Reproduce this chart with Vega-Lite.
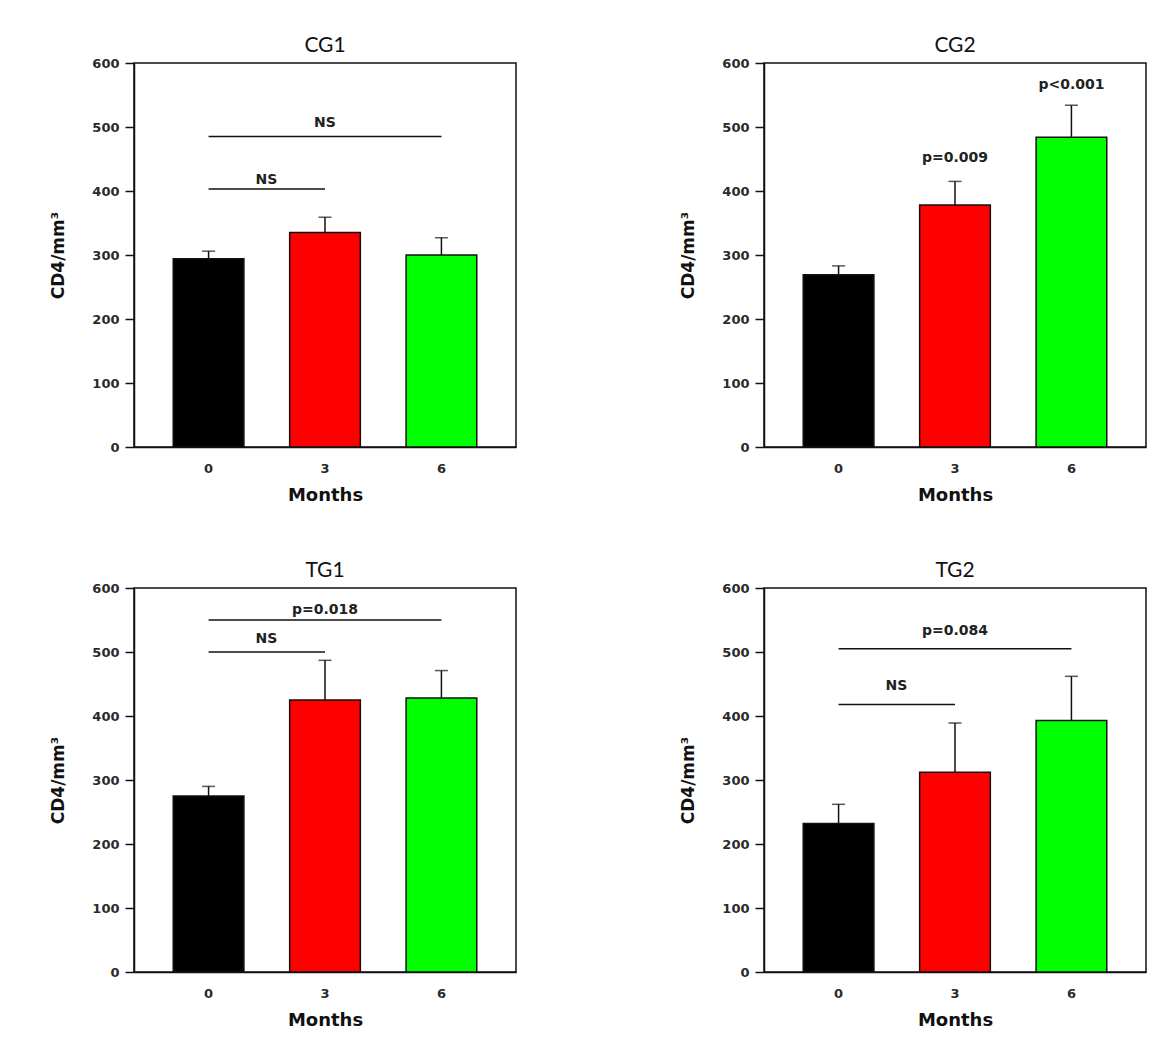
{
  "$schema": "https://vega.github.io/schema/vega-lite/v6.json",
  "background": "white",
  "padding": {"left": 49, "top": 34, "right": 5, "bottom": 5},
  "datasets": {
    "bars": [
      {"group": "CG1", "month": "0", "mean": 294, "upper": 306},
      {"group": "CG1", "month": "3", "mean": 335, "upper": 359},
      {"group": "CG1", "month": "6", "mean": 300, "upper": 327},
      {"group": "CG2", "month": "0", "mean": 269, "upper": 283},
      {"group": "CG2", "month": "3", "mean": 378, "upper": 415},
      {"group": "CG2", "month": "6", "mean": 484, "upper": 534},
      {"group": "TG1", "month": "0", "mean": 275, "upper": 290},
      {"group": "TG1", "month": "3", "mean": 425, "upper": 487},
      {"group": "TG1", "month": "6", "mean": 428, "upper": 471},
      {"group": "TG2", "month": "0", "mean": 232, "upper": 262},
      {"group": "TG2", "month": "3", "mean": 312, "upper": 389},
      {"group": "TG2", "month": "6", "mean": 393, "upper": 462}
    ],
    "brackets": [
      {"group": "CG1", "from": "0", "to": "6", "level": 485},
      {"group": "CG1", "from": "0", "to": "3", "level": 403},
      {"group": "TG1", "from": "0", "to": "6", "level": 550},
      {"group": "TG1", "from": "0", "to": "3", "level": 500},
      {"group": "TG2", "from": "0", "to": "6", "level": 505},
      {"group": "TG2", "from": "0", "to": "3", "level": 418}
    ],
    "notes": [
      {"group": "CG1", "at": "3", "span": "full", "y": 507, "label": "NS"},
      {"group": "CG1", "at": "0", "span": "half", "y": 417, "label": "NS"},
      {"group": "CG2", "at": "3", "span": "bar", "y": 451, "label": "p=0.009"},
      {"group": "CG2", "at": "6", "span": "bar", "y": 566, "label": "p<0.001"},
      {"group": "TG1", "at": "3", "span": "full", "y": 566, "label": "p=0.018"},
      {"group": "TG1", "at": "0", "span": "half", "y": 521, "label": "NS"},
      {"group": "TG2", "at": "3", "span": "full", "y": 533, "label": "p=0.084"},
      {"group": "TG2", "at": "0", "span": "half", "y": 447, "label": "NS"}
    ]
  },
  "columns": 2,
  "spacing": {"column": 162, "row": 54},
  "concat": [
    {
      "title": "CG1",
      "width": 382, "height": 384,
      "layer": [
        {"data": {"name": "bars"}, "transform": [{"filter": "datum.group === 'CG1'"}],
         "mark": {"type": "bar", "stroke": "#111", "strokeWidth": 1.5},
         "encoding": {
           "x": {"field": "month", "type": "ordinal", "sort": ["0", "3", "6"], "title": "Months", "scale": {"paddingInner": 0.393, "paddingOuter": 0.337}},
           "y": {"field": "mean", "type": "quantitative", "title": "CD4/mm³", "scale": {"domain": [0, 600]}, "axis": {"values": [0, 100, 200, 300, 400, 500, 600]}},
           "color": {"field": "month", "type": "nominal", "scale": {"domain": ["0", "3", "6"], "range": ["#000000", "#ff0000", "#00ff00"]}, "legend": null}
         }},
        {"data": {"name": "bars"}, "transform": [{"filter": "datum.group === 'CG1'"}],
         "mark": {"type": "rule", "color": "#111", "strokeWidth": 1.5},
         "encoding": {"x": {"field": "month", "type": "ordinal", "sort": ["0", "3", "6"], "bandPosition": 0.5}, "y": {"field": "mean", "type": "quantitative"}, "y2": {"field": "upper"}}},
        {"data": {"name": "bars"}, "transform": [{"filter": "datum.group === 'CG1'"}],
         "mark": {"type": "tick", "color": "#111", "thickness": 1.5, "size": 13, "orient": "horizontal"},
         "encoding": {"x": {"field": "month", "type": "ordinal", "sort": ["0", "3", "6"]}, "y": {"field": "upper", "type": "quantitative"}}},
        {"data": {"name": "brackets"}, "transform": [{"filter": "datum.group === 'CG1'"}],
         "mark": {"type": "rule", "color": "#111", "strokeWidth": 1.5},
         "encoding": {"x": {"field": "from", "type": "ordinal", "sort": ["0", "3", "6"], "bandPosition": 0.5}, "x2": {"field": "to", "bandPosition": 0.5}, "y": {"field": "level", "type": "quantitative"}}},
        {"data": {"name": "notes"}, "transform": [{"filter": "datum.group === 'CG1' && datum.span !== 'half'"}],
         "mark": {"type": "text", "font": "DejaVu Sans", "fontWeight": "bold", "fontSize": 14, "color": "#222", "baseline": "middle"},
         "encoding": {"x": {"field": "at", "type": "ordinal", "sort": ["0", "3", "6"], "bandPosition": 0.5}, "y": {"field": "y", "type": "quantitative"}, "text": {"field": "label"}}},
        {"data": {"name": "notes"}, "transform": [{"filter": "datum.group === 'CG1' && datum.span === 'half'"}],
         "mark": {"type": "text", "font": "DejaVu Sans", "fontWeight": "bold", "fontSize": 14, "color": "#222", "baseline": "middle"},
         "encoding": {"x": {"field": "at", "type": "ordinal", "sort": ["0", "3", "6"], "bandPosition": 1.32}, "y": {"field": "y", "type": "quantitative"}, "text": {"field": "label"}}}
      ]
    },
    {
      "title": "CG2",
      "width": 382, "height": 384,
      "layer": [
        {"data": {"name": "bars"}, "transform": [{"filter": "datum.group === 'CG2'"}],
         "mark": {"type": "bar", "stroke": "#111", "strokeWidth": 1.5},
         "encoding": {
           "x": {"field": "month", "type": "ordinal", "sort": ["0", "3", "6"], "title": "Months", "scale": {"paddingInner": 0.393, "paddingOuter": 0.337}},
           "y": {"field": "mean", "type": "quantitative", "title": "CD4/mm³", "scale": {"domain": [0, 600]}, "axis": {"values": [0, 100, 200, 300, 400, 500, 600]}},
           "color": {"field": "month", "type": "nominal", "scale": {"domain": ["0", "3", "6"], "range": ["#000000", "#ff0000", "#00ff00"]}, "legend": null}
         }},
        {"data": {"name": "bars"}, "transform": [{"filter": "datum.group === 'CG2'"}],
         "mark": {"type": "rule", "color": "#111", "strokeWidth": 1.5},
         "encoding": {"x": {"field": "month", "type": "ordinal", "sort": ["0", "3", "6"], "bandPosition": 0.5}, "y": {"field": "mean", "type": "quantitative"}, "y2": {"field": "upper"}}},
        {"data": {"name": "bars"}, "transform": [{"filter": "datum.group === 'CG2'"}],
         "mark": {"type": "tick", "color": "#111", "thickness": 1.5, "size": 13, "orient": "horizontal"},
         "encoding": {"x": {"field": "month", "type": "ordinal", "sort": ["0", "3", "6"]}, "y": {"field": "upper", "type": "quantitative"}}},
        {"data": {"name": "notes"}, "transform": [{"filter": "datum.group === 'CG2'"}],
         "mark": {"type": "text", "font": "DejaVu Sans", "fontWeight": "bold", "fontSize": 14, "color": "#222", "baseline": "middle"},
         "encoding": {"x": {"field": "at", "type": "ordinal", "sort": ["0", "3", "6"], "bandPosition": 0.5}, "y": {"field": "y", "type": "quantitative"}, "text": {"field": "label"}}}
      ]
    },
    {
      "title": "TG1",
      "width": 382, "height": 384,
      "layer": [
        {"data": {"name": "bars"}, "transform": [{"filter": "datum.group === 'TG1'"}],
         "mark": {"type": "bar", "stroke": "#111", "strokeWidth": 1.5},
         "encoding": {
           "x": {"field": "month", "type": "ordinal", "sort": ["0", "3", "6"], "title": "Months", "scale": {"paddingInner": 0.393, "paddingOuter": 0.337}},
           "y": {"field": "mean", "type": "quantitative", "title": "CD4/mm³", "scale": {"domain": [0, 600]}, "axis": {"values": [0, 100, 200, 300, 400, 500, 600]}},
           "color": {"field": "month", "type": "nominal", "scale": {"domain": ["0", "3", "6"], "range": ["#000000", "#ff0000", "#00ff00"]}, "legend": null}
         }},
        {"data": {"name": "bars"}, "transform": [{"filter": "datum.group === 'TG1'"}],
         "mark": {"type": "rule", "color": "#111", "strokeWidth": 1.5},
         "encoding": {"x": {"field": "month", "type": "ordinal", "sort": ["0", "3", "6"], "bandPosition": 0.5}, "y": {"field": "mean", "type": "quantitative"}, "y2": {"field": "upper"}}},
        {"data": {"name": "bars"}, "transform": [{"filter": "datum.group === 'TG1'"}],
         "mark": {"type": "tick", "color": "#111", "thickness": 1.5, "size": 13, "orient": "horizontal"},
         "encoding": {"x": {"field": "month", "type": "ordinal", "sort": ["0", "3", "6"]}, "y": {"field": "upper", "type": "quantitative"}}},
        {"data": {"name": "brackets"}, "transform": [{"filter": "datum.group === 'TG1'"}],
         "mark": {"type": "rule", "color": "#111", "strokeWidth": 1.5},
         "encoding": {"x": {"field": "from", "type": "ordinal", "sort": ["0", "3", "6"], "bandPosition": 0.5}, "x2": {"field": "to", "bandPosition": 0.5}, "y": {"field": "level", "type": "quantitative"}}},
        {"data": {"name": "notes"}, "transform": [{"filter": "datum.group === 'TG1' && datum.span !== 'half'"}],
         "mark": {"type": "text", "font": "DejaVu Sans", "fontWeight": "bold", "fontSize": 14, "color": "#222", "baseline": "middle"},
         "encoding": {"x": {"field": "at", "type": "ordinal", "sort": ["0", "3", "6"], "bandPosition": 0.5}, "y": {"field": "y", "type": "quantitative"}, "text": {"field": "label"}}},
        {"data": {"name": "notes"}, "transform": [{"filter": "datum.group === 'TG1' && datum.span === 'half'"}],
         "mark": {"type": "text", "font": "DejaVu Sans", "fontWeight": "bold", "fontSize": 14, "color": "#222", "baseline": "middle"},
         "encoding": {"x": {"field": "at", "type": "ordinal", "sort": ["0", "3", "6"], "bandPosition": 1.32}, "y": {"field": "y", "type": "quantitative"}, "text": {"field": "label"}}}
      ]
    },
    {
      "title": "TG2",
      "width": 382, "height": 384,
      "layer": [
        {"data": {"name": "bars"}, "transform": [{"filter": "datum.group === 'TG2'"}],
         "mark": {"type": "bar", "stroke": "#111", "strokeWidth": 1.5},
         "encoding": {
           "x": {"field": "month", "type": "ordinal", "sort": ["0", "3", "6"], "title": "Months", "scale": {"paddingInner": 0.393, "paddingOuter": 0.337}},
           "y": {"field": "mean", "type": "quantitative", "title": "CD4/mm³", "scale": {"domain": [0, 600]}, "axis": {"values": [0, 100, 200, 300, 400, 500, 600]}},
           "color": {"field": "month", "type": "nominal", "scale": {"domain": ["0", "3", "6"], "range": ["#000000", "#ff0000", "#00ff00"]}, "legend": null}
         }},
        {"data": {"name": "bars"}, "transform": [{"filter": "datum.group === 'TG2'"}],
         "mark": {"type": "rule", "color": "#111", "strokeWidth": 1.5},
         "encoding": {"x": {"field": "month", "type": "ordinal", "sort": ["0", "3", "6"], "bandPosition": 0.5}, "y": {"field": "mean", "type": "quantitative"}, "y2": {"field": "upper"}}},
        {"data": {"name": "bars"}, "transform": [{"filter": "datum.group === 'TG2'"}],
         "mark": {"type": "tick", "color": "#111", "thickness": 1.5, "size": 13, "orient": "horizontal"},
         "encoding": {"x": {"field": "month", "type": "ordinal", "sort": ["0", "3", "6"]}, "y": {"field": "upper", "type": "quantitative"}}},
        {"data": {"name": "brackets"}, "transform": [{"filter": "datum.group === 'TG2'"}],
         "mark": {"type": "rule", "color": "#111", "strokeWidth": 1.5},
         "encoding": {"x": {"field": "from", "type": "ordinal", "sort": ["0", "3", "6"], "bandPosition": 0.5}, "x2": {"field": "to", "bandPosition": 0.5}, "y": {"field": "level", "type": "quantitative"}}},
        {"data": {"name": "notes"}, "transform": [{"filter": "datum.group === 'TG2' && datum.span !== 'half'"}],
         "mark": {"type": "text", "font": "DejaVu Sans", "fontWeight": "bold", "fontSize": 14, "color": "#222", "baseline": "middle"},
         "encoding": {"x": {"field": "at", "type": "ordinal", "sort": ["0", "3", "6"], "bandPosition": 0.5}, "y": {"field": "y", "type": "quantitative"}, "text": {"field": "label"}}},
        {"data": {"name": "notes"}, "transform": [{"filter": "datum.group === 'TG2' && datum.span === 'half'"}],
         "mark": {"type": "text", "font": "DejaVu Sans", "fontWeight": "bold", "fontSize": 14, "color": "#222", "baseline": "middle"},
         "encoding": {"x": {"field": "at", "type": "ordinal", "sort": ["0", "3", "6"], "bandPosition": 1.32}, "y": {"field": "y", "type": "quantitative"}, "text": {"field": "label"}}}
      ]
    }
  ],
  "config": {
    "view": {"stroke": "#111", "strokeWidth": 1.5},
    "title": {"font": "Lato", "fontSize": 21, "fontWeight": "normal", "color": "#111", "offset": 1, "anchor": "middle"},
    "axis": {"grid": false, "domainColor": "#111", "domainWidth": 1.5, "labelFont": "DejaVu Sans", "labelFontWeight": "bold", "labelFontSize": 13, "labelColor": "#2a2a2a", "titleFont": "DejaVu Sans", "titleFontWeight": "bold", "titleColor": "#111"},
    "axisY": {"tickSize": 9, "tickColor": "#111", "tickWidth": 1.5, "labelPadding": 6, "titleFontSize": 17, "titlePadding": 24},
    "axisX": {"ticks": false, "labelPadding": 15.5, "labelAngle": 0, "titleFontSize": 18, "titlePadding": 10.5}
  }
}
